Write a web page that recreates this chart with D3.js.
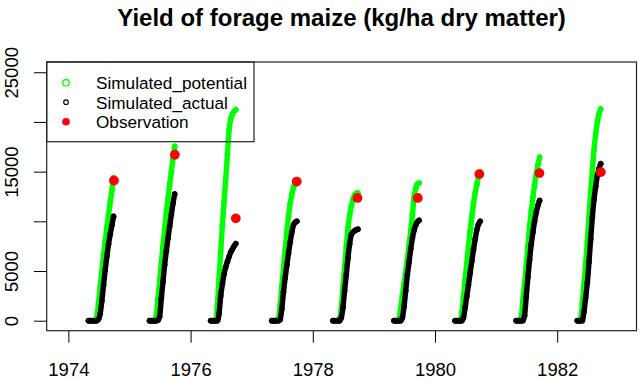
<!DOCTYPE html>
<html><head><meta charset="utf-8">
<script src="https://cdn.jsdelivr.net/npm/d3@7"></script>
<style>
html,body{margin:0;padding:0;background:#fff;}
svg{display:block;font-family:"Liberation Sans",Arial,Helvetica,sans-serif;}
</style>
</head><body>
<svg id="c" width="640" height="379"></svg>
<script>
// ---------------- data ----------------
const TITLE = "Yield of forage maize (kg/ha dry matter)";
const LEGEND_LABELS = ["Simulated_potential", "Simulated_actual", "Observation"];
const SEASONS = [1974, 1975, 1976, 1977, 1978, 1979, 1980, 1981, 1982];
// day of year of the (sub-sampled) simulation output
const DAYS = [120,130,140,150,160,170,180,190,200,210,220,230,240,250,260,270];

const POT_1974 = [0,0,0,0,0,400,1800,3400,5000,6600,8000,9400,10700,11900,13100,14400];
const ACT_1974 = [0,0,0,0,0,0,150,700,2000,3600,5100,6500,7700,8700,9600,10500];
const POT_1975 = [0,0,0,0,500,2200,4000,5800,7500,9200,10800,12300,13700,15000,16300,17550];
const ACT_1975 = [0,0,0,0,0,50,400,2200,3900,5600,7000,8300,9500,10700,11800,12750];
const POT_1976 = [0,0,0,0,1500,4200,7000,9600,12000,14300,16700,19200,20300,20800,21050,21250];
const ACT_1976 = [0,0,0,0,0,700,2500,3700,4700,5400,5950,6450,6900,7200,7500,7750];
const POT_1977 = [0,0,0,0,200,1600,3500,5300,7100,8900,10500,11800,12700,13400,13850,14000];
const ACT_1977 = [0,0,0,0,0,100,1200,2900,4300,5600,6800,7900,8900,9650,9900,10000];
const POT_1978 = [0,0,0,0,200,1200,3400,5400,7400,9300,10600,11500,12200,12650,12800,12850];
const ACT_1978 = [0,0,0,0,0,300,1300,3000,4600,6300,7700,8650,8900,9050,9150,9200];
const POT_1979 = [0,0,0,100,1300,2500,3700,4900,6200,7600,9100,10600,12400,13300,13750,13850];
const ACT_1979 = [0,0,0,0,0,300,1400,3000,4600,5900,7200,8300,9100,9600,9950,10100];
const POT_1980 = [0,0,0,0,800,2400,4100,5800,7450,9000,10500,11800,12850,13700,14450,14950];
const ACT_1980 = [0,0,0,0,0,300,1300,2450,3600,4800,6000,7150,8200,9150,9700,10000];
const POT_1981 = [0,0,0,300,2100,3700,5450,7500,9450,11000,12450,13700,14750,15700,16450];
const ACT_1981 = [0,0,0,0,0,500,2400,4400,6100,7700,8900,10000,10900,11600,12100];
const POT_1982 = [0,0,200,1700,3700,5700,7900,10500,12900,15100,17200,18800,20000,20800,21300];
const ACT_1982 = [0,0,0,0,900,2300,3800,5900,8200,10400,12200,13500,14600,15300,15800];

const OBS_DAYS  = [272, 271, 270, 269, 267, 262, 265, 259, 261];
const OBS_YIELD = [14100, 16700, 10300, 14000, 12350, 12350, 14750, 14850, 14950];

const X_TICKS = [1974, 1976, 1978, 1980, 1982];
const Y_TICKS = [0, 5000, 10000, 15000, 20000, 25000];
// labels that remain visible on the y axis (the others are dropped for overlap)
const Y_LABELS = [0, 5000, 15000, 25000];

// ---------------- build tables ----------------
const POT = [POT_1974,POT_1975,POT_1976,POT_1977,POT_1978,POT_1979,POT_1980,POT_1981,POT_1982];
const ACT = [ACT_1974,ACT_1975,ACT_1976,ACT_1977,ACT_1978,ACT_1979,ACT_1980,ACT_1981,ACT_1982];
const toRows = (yr, vals) => vals.map((v, i) => ({t: yr + DAYS[i] / 365, v}));
const potSeries = SEASONS.map((yr, k) => toRows(yr, POT[k]));
const actSeries = SEASONS.map((yr, k) => toRows(yr, ACT[k]));
const obs = SEASONS.map((yr, k) => ({t: yr + OBS_DAYS[k] / 365, v: OBS_YIELD[k]}));

// ---------------- layout ----------------
const svg = d3.select("#c");
const P = {left: 46.7, right: 636.5, top: 62, bottom: 330.7};
const x = d3.scaleLinear().domain([1973.645, 1983.298]).range([P.left, P.right]);
const y = d3.scaleLinear().domain([-1005, 26030]).range([P.bottom, P.top]);

const GREEN = "#00ff00", BLACK = "#000000", RED = "#ff0000";

const line = d3.line().x(d => x(d.t)).y(d => y(d.v)).curve(d3.curveMonotoneX);

function drawSeries(series, color, cls) {
  const g = svg.append("g").attr("class", cls);
  g.selectAll("path").data(series).join("path")
    .attr("d", line)
    .attr("fill", "none")
    .attr("stroke", color)
    .attr("stroke-width", 5.4)
    .attr("stroke-linecap", "round")
    .attr("stroke-linejoin", "round");
  g.selectAll("circle").data(series.flat()).join("circle")
    .attr("cx", d => x(d.t)).attr("cy", d => y(d.v)).attr("r", 2.5)
    .attr("fill", "none").attr("stroke", color).attr("stroke-width", 1);
}
drawSeries(potSeries, GREEN, "potential");
drawSeries(actSeries, BLACK, "actual");

svg.append("g").attr("class", "obs").selectAll("circle").data(obs).join("circle")
  .attr("cx", d => x(d.t)).attr("cy", d => y(d.v)).attr("r", 4.9).attr("fill", RED);

// ---------------- axes ----------------
const ax = svg.append("g").attr("transform", `translate(0,${P.bottom})`)
  .call(d3.axisBottom(x).tickValues(X_TICKS).tickSize(12).tickFormat(d3.format("d")));
ax.select(".domain").remove();
ax.selectAll("line").attr("stroke", "#000").attr("stroke-width", 1);
ax.selectAll("text").attr("y", 376 - P.bottom).attr("dy", 0)
  .attr("font-size", 18.5).attr("font-family", null).attr("fill", "#000");

const ay = svg.append("g").attr("transform", `translate(${P.left},0)`)
  .call(d3.axisLeft(y).tickValues(Y_TICKS).tickSize(12.7)
    .tickFormat(d => Y_LABELS.includes(d) ? d3.format("d")(d) : ""));
ay.select(".domain").remove();
ay.selectAll("line").attr("stroke", "#000").attr("stroke-width", 1);
ay.selectAll("text")
  .attr("x", 0).attr("y", 0).attr("dy", 0)
  .attr("text-anchor", "middle")
  .attr("transform", `translate(${17.5 - P.left},0) rotate(-90)`)
  .attr("font-size", 18.5).attr("font-family", null).attr("fill", "#000");

// plot box
svg.append("rect").attr("x", P.left).attr("y", P.top)
  .attr("width", P.right - P.left).attr("height", P.bottom - P.top)
  .attr("fill", "none").attr("stroke", "#222").attr("stroke-width", 1.2);

// ---------------- legend ----------------
const lg = svg.append("g").attr("class", "legend");
lg.append("rect").attr("x", P.left).attr("y", P.top)
  .attr("width", 254 - P.left).attr("height", 141.7 - P.top)
  .attr("fill", "none").attr("stroke", "#222").attr("stroke-width", 1.2);
const rowsY = [82.7, 102.2, 121.7];
const sym = [
  {r: 3.2, fill: "none", stroke: GREEN, sw: 1.3},
  {r: 2.3, fill: "none", stroke: BLACK, sw: 1.1},
  {r: 3.8, fill: RED, stroke: "none", sw: 0}
];
lg.selectAll("circle").data(LEGEND_LABELS).join("circle")
  .attr("cx", 66).attr("cy", (d, i) => rowsY[i]).attr("r", (d, i) => sym[i].r)
  .attr("fill", (d, i) => sym[i].fill).attr("stroke", (d, i) => sym[i].stroke)
  .attr("stroke-width", (d, i) => sym[i].sw);
lg.selectAll("text").data(LEGEND_LABELS).join("text")
  .attr("x", 96).attr("y", (d, i) => rowsY[i] + 6.3)
  .attr("font-size", 17.2).attr("fill", "#000").text(d => d);

// ---------------- title ----------------
svg.append("text").attr("x", (P.left + P.right) / 2).attr("y", 26)
  .attr("text-anchor", "middle").attr("font-weight", "bold")
  .attr("font-size", 24).attr("fill", "#000").text(TITLE);
</script>
</body></html>
